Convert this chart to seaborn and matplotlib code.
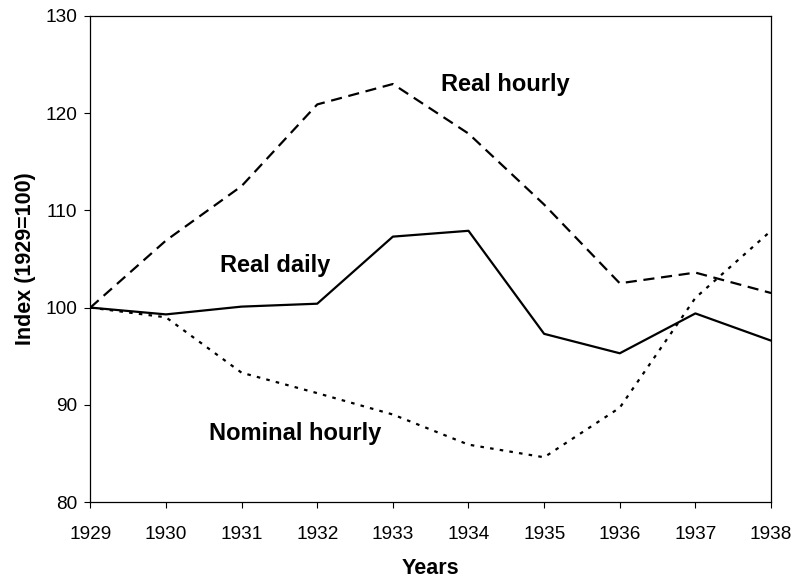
import matplotlib
matplotlib.use("Agg")
import matplotlib.pyplot as plt
import pandas as pd
import seaborn as sns

years = [1929, 1930, 1931, 1932, 1933, 1934, 1935, 1936, 1937, 1938]
real_hourly = [100, 106.9, 112.5, 120.9, 123.0, 117.9, 110.6, 102.5, 103.6, 101.5]
real_daily = [100, 99.3, 100.1, 100.4, 107.3, 107.9, 97.3, 95.3, 99.4, 96.6]
nominal_hourly = [100, 99.0, 93.3, 91.2, 89.0, 85.9, 84.6, 89.7, 101.0, 107.9]
series_names = ["Real hourly", "Real daily", "Nominal hourly"]


def build_frame():
    rows = []
    for name, vals in zip(series_names, [real_hourly, real_daily, nominal_hourly]):
        for yr, v in zip(years, vals):
            rows.append({"year": yr, "index": v, "series": name})
    return pd.DataFrame(rows)


def main():
    sns.set_theme(style="ticks")
    plt.rcParams["font.family"] = ["Liberation Sans", "DejaVu Sans"]
    plt.rcParams["text.color"] = "black"
    plt.rcParams["axes.labelcolor"] = "black"

    df = build_frame()
    fig = plt.figure(figsize=(7.98, 5.87), dpi=100)
    ax = fig.add_axes([0.1132, 0.1448, 0.853, 0.828])

    sns.lineplot(data=df, x="year", y="index", style="series",
                 dashes={"Real hourly": (5, 3), "Real daily": "", "Nominal hourly": (1.6, 2.8)},
                 color="black", linewidth=1.6, legend=False, ax=ax)

    ax.set_xlim(1929, 1938)
    ax.set_ylim(80, 130)
    ax.set_xticks(years)
    ax.set_yticks(range(80, 131, 10))
    ax.tick_params(axis="both", direction="out", length=4.3, width=0.8, labelsize=13.7,
                   colors="black", labelcolor="black")
    ax.tick_params(axis="x", pad=13)
    ax.tick_params(axis="y", pad=5)
    for sp in ax.spines.values():
        sp.set_color("black")
        sp.set_linewidth(0.9)

    ax.set_xlabel("Years", fontsize=15.5, fontweight="bold", labelpad=11, color="black")
    ax.set_ylabel("Index (1929=100)", fontsize=15.5, fontweight="bold", labelpad=7, color="black")

    ax.text(1933.63, 122.9, "Real hourly", fontsize=17, fontweight="bold", va="center", color="black")
    ax.text(1930.72, 104.3, "Real daily", fontsize=17, fontweight="bold", va="center", color="black")
    ax.text(1930.57, 87.0, "Nominal hourly", fontsize=17, fontweight="bold", va="center", color="black")

    fig.savefig("out.png", dpi=100)


if __name__ == "__main__":
    main()
